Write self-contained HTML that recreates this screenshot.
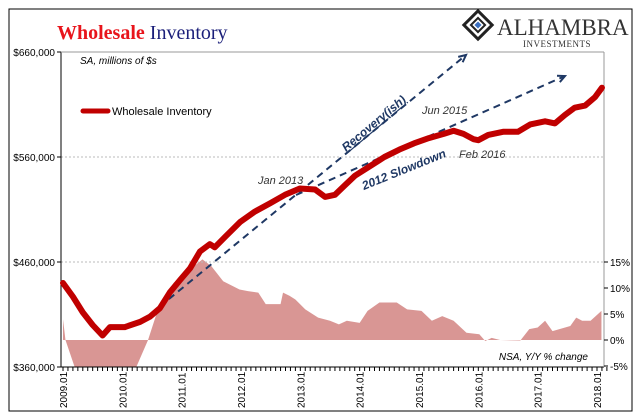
<!DOCTYPE html>
<html><head><meta charset="utf-8"><style>
body{margin:0;background:#fff;}
svg{display:block;font-family:"Liberation Sans",sans-serif;}
</style></head><body>
<svg width="640" height="420" viewBox="0 0 640 420">
<rect x="9" y="9" width="623" height="402" fill="#fff" stroke="#000" stroke-width="1"/>
<text x="57" y="39" font-family="Liberation Serif,serif" font-size="20" font-weight="bold" fill="#e8141b">Wholesale <tspan fill="#1b1f7a" font-weight="normal">Inventory</tspan></text>
<g>
<g transform="translate(478,25) rotate(45)">
<rect x="-10" y="-10" width="20" height="20" fill="none" stroke="#222" stroke-width="3"/>
<rect x="-5" y="-5" width="10" height="10" fill="none" stroke="#222" stroke-width="2"/>
<rect x="-2.5" y="-2.5" width="5" height="5" fill="#3a6fc0"/>
</g>
<text x="497" y="35" font-family="Liberation Serif,serif" font-size="23" fill="#333">ALHAMBRA</text>
<text x="523" y="47" font-family="Liberation Serif,serif" font-size="9" fill="#333" letter-spacing="0.5">INVESTMENTS</text>
</g>
<g id="plot"></g>
</svg>
<script>
const months=[0,2,4,6,8,9.5,12.5,15.6,17.6,19.6,21.6,23.7,25.7,27.7,29.7,30.7,32.8,35.8,38.8,41.9,44.9,47.9,51,53,55,57,59,62,65,68,71,74,77,79,81,83,84,86,89,92,94.5,97.5,99.5,101.5,103.5,105.6,107.6,109];
const inventory=[440,427,412,400,390,398,398,403,408,416,431,443,454,470,477,474,484,498,508,516,524,530,529,522,524,533,542,551,560,567,573,578,582,585,582,577,576,581,584,584,591,594,592,600,607,609,617,626];
const yoyMonths=[0,0.5,3,14,17.2,19,22.4,25.7,28.2,30,32.4,35.7,37.4,39.5,41,44,44.5,45.8,47,49,51.6,54,55.8,57.4,60,61.6,64,67.5,69.6,72.5,74.6,76.7,79,81.6,84.2,85.4,86.7,88.4,92.5,94.3,96,97.5,99,102.6,103.8,105,106.7,108.9];
const yoyPct=[4,0,-7,-7,0,5.3,11,13.6,15.5,14.2,11.3,9.7,9.4,9.1,6.9,6.9,9.1,8.5,7.8,5.9,4.3,3.7,3.0,3.7,3.3,5.6,7.2,7.2,5.9,5.6,3.7,4.6,3.7,1.4,1.1,-0.2,0.4,0,-0.1,2.1,2.4,3.7,1.7,2.7,4.3,3.7,3.7,5.6];
const leftTicks=[660000,560000,460000,360000];
const leftLabels=["$660,000","$560,000","$460,000","$360,000"];
const rightTicks=[15,10,5,0,-5];
const rightLabels=["15%","10%","5%","0%","-5%"];
const yearLabels=["2009.01","2010.01","2011.01","2012.01","2013.01","2014.01","2015.01","2016.01","2017.01","2018.01"];

const X0=63,PXM=534/108,L=61,R=604,T=52,B=367;
const xs=m=>X0+m*PXM;
const yl=v=>T+(660000-v)/300000*(B-T);
const yr=p=>340-p*(340-262)/15;
const NS="http://www.w3.org/2000/svg";
const g=document.getElementById('plot');
function mk(t,a,p){const e=document.createElementNS(NS,t);for(const k in a)e.setAttribute(k,a[k]);(p||g).appendChild(e);return e;}

// clip
const defs=mk('defs',{});
const cp=mk('clipPath',{id:'c'},defs);mk('rect',{x:L,y:T,width:R-L,height:B-T},cp);

// area
let d=`M${xs(yoyMonths[0])},${yr(0)}`;
yoyMonths.forEach((m,i)=>d+=`L${xs(m)},${yr(yoyPct[i])}`);
d+=`L${xs(yoyMonths[yoyMonths.length-1])},${yr(0)}Z`;
const area=mk('path',{d:d,fill:'#d99694','clip-path':'url(#c)'});



// gridlines
[560000,460000].forEach(v=>{const l=mk('line',{x1:L,x2:R,y1:yl(v),y2:yl(v),stroke:'#bbb','stroke-dasharray':'2,2'});

});

// axes
mk('line',{x1:L,x2:L,y1:T,y2:B,stroke:'#000'});
mk('line',{x1:L,x2:R,y1:B,y2:B,stroke:'#000'});
mk('line',{x1:R,x2:R,y1:T,y2:B,stroke:'#999'});
mk('line',{x1:L,x2:R,y1:T,y2:T,stroke:'#999'});
leftTicks.forEach((v,i)=>{mk('line',{x1:L-4,x2:L,y1:yl(v),y2:yl(v),stroke:'#000'});
const t=mk('text',{x:L-6,y:yl(v)+4,'text-anchor':'end','font-size':10,fill:'#000'});t.textContent=leftLabels[i];

});
rightTicks.forEach((p,i)=>{mk('line',{x1:R,x2:R+4,y1:yr(p),y2:yr(p),stroke:'#000'});
const t=mk('text',{x:R+6,y:yr(p)+4,'font-size':10,fill:'#000'});t.textContent=rightLabels[i];

});
for(let m=0;m<=110;m++){mk('line',{x1:xs(m),x2:xs(m),y1:B,y2:B+4,stroke:'#000'});}
yearLabels.forEach((s,i)=>{const x=xs(i*12)+4;const t=mk('text',{x:x,y:408,transform:`rotate(-90 ${x} 408)`,'font-size':10,fill:'#000'});t.textContent=s;

});

// dashed arrows
function arrow(x1,y1,x2,y2,name){const a=mk('line',{x1,y1,x2,y2,stroke:'#1f3864','stroke-width':2,'stroke-dasharray':'7,5'});


const ang=Math.atan2(y2-y1,x2-x1);const h=8;
const p1=[x2-h*Math.cos(ang-0.45),y2-h*Math.sin(ang-0.45)],p2=[x2-h*Math.cos(ang+0.45),y2-h*Math.sin(ang+0.45)];
mk('polyline',{points:`${p1} ${x2},${y2} ${p2}`,fill:'none',stroke:'#1f3864','stroke-width':2});}
arrow(141,322,466,55,'recovery-arrow');
arrow(296,195,565,76,'slowdown-arrow');

// red line
const pl=mk('polyline',{points:months.map((m,i)=>`${xs(m)},${yl(inventory[i]*1000)}`).join(' '),fill:'none',stroke:'#c00000','stroke-width':6,'stroke-linejoin':'round','stroke-linecap':'round'});



// annotations
function txt(s,x,y,o,name){const t=mk('text',Object.assign({x,y,'font-size':11,'font-style':'italic'},o));t.textContent=s;

return t;}
txt('SA, millions of $s',80,64,{'font-size':10,fill:'#000'},'left-axis-note');
txt('NSA, Y/Y % change',588,360,{'font-size':10,fill:'#000','text-anchor':'end'},'right-axis-note');
txt('Jan 2013',258,184,{fill:'#333'},'jan-2013-label');
txt('Jun 2015',422,114,{fill:'#333'},'jun-2015-label');
txt('Feb 2016',459,158,{fill:'#333'},'feb-2016-label');
txt('Recovery(ish)',346,152,{fill:'#1f3864','font-weight':'bold','font-size':12,'text-decoration':'underline',transform:'rotate(-40 346 152)'},'recovery-label');
txt('2012 Slowdown',364,190,{fill:'#1f3864','font-weight':'bold','font-size':12,transform:'rotate(-22 364 190)'},'slowdown-label');

// legend
const lg=mk('line',{x1:83,x2:108,y1:111,y2:111,stroke:'#c00000','stroke-width':5,'stroke-linecap':'round'});


const lt=mk('text',{x:112,y:115,'font-size':11,fill:'#000'});lt.textContent='Wholesale Inventory';


</script>
</body></html>
